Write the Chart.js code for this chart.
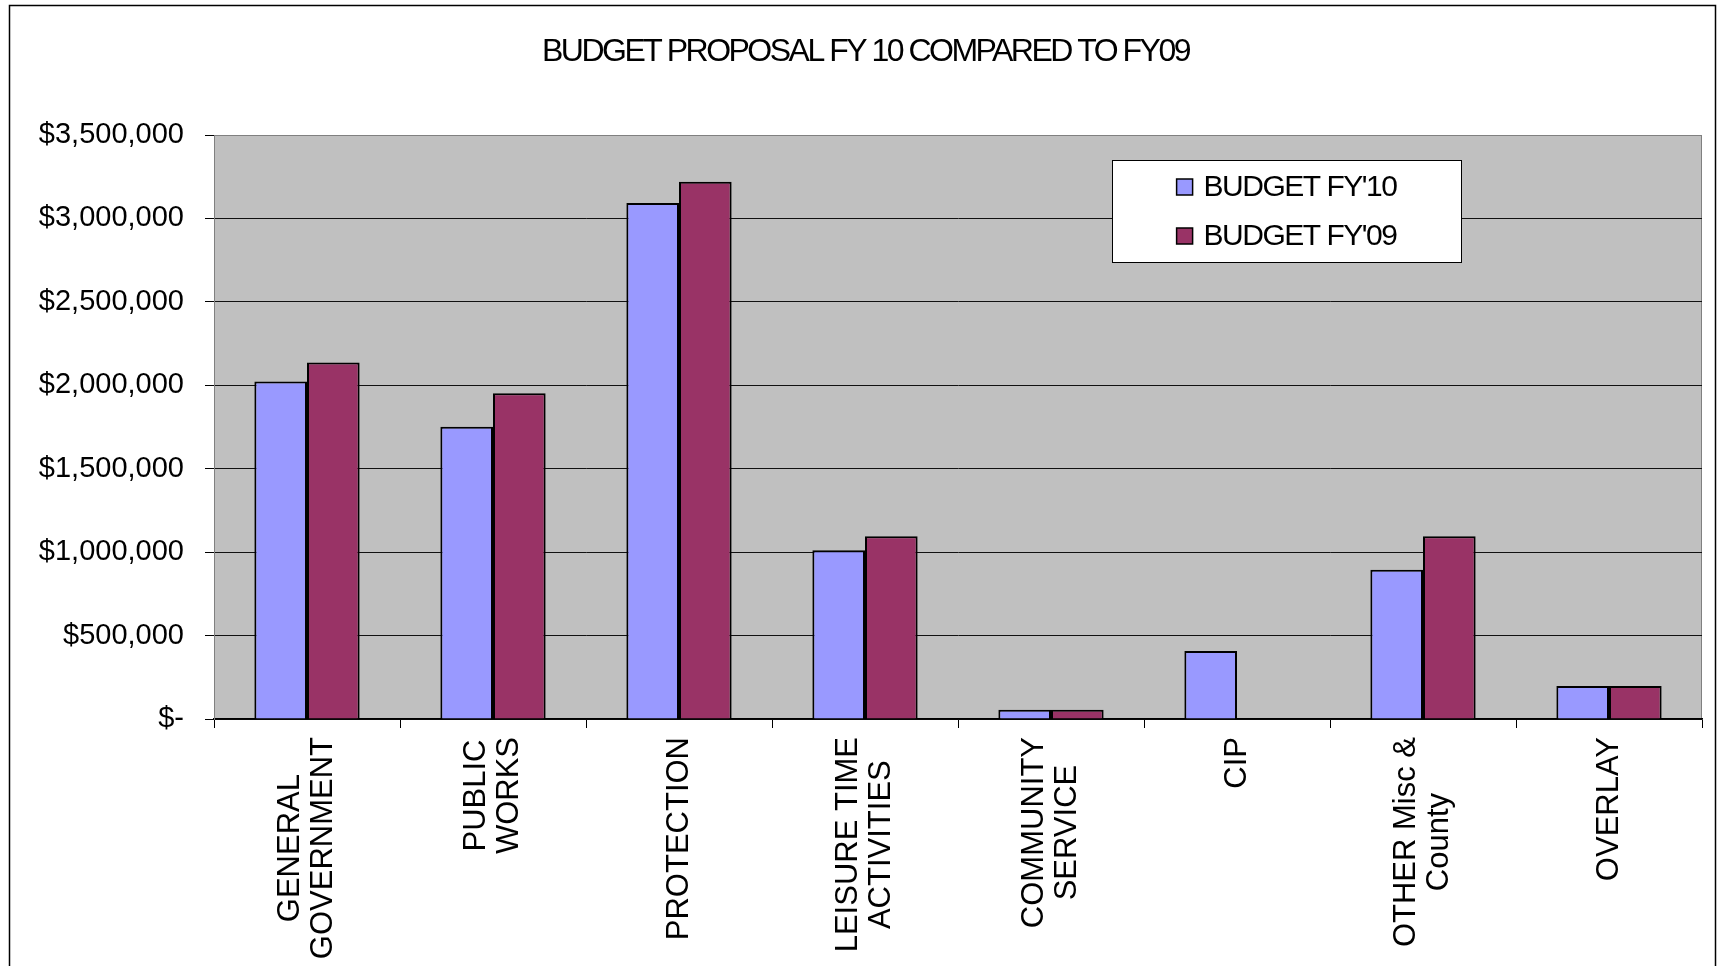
<!DOCTYPE html>
<html>
<head>
<meta charset="utf-8">
<title>Budget proposal FY10 vs FY09</title>
<script src="https://cdn.jsdelivr.net/npm/chart.js@4"></script>
<style>
  html, body { margin: 0; padding: 0; background: #fff; }
  canvas { display: block; }
</style>
</head>
<body>
<canvas id="budgetChart" width="1719" height="966"></canvas>
<script>
// data
const categories = [
  ['GENERAL', 'GOVERNMENT'],
  ['PUBLIC', 'WORKS'],
  ['PROTECTION'],
  ['LEISURE TIME', 'ACTIVITIES'],
  ['COMMUNITY', 'SERVICE'],
  ['CIP'],
  ['OTHER Misc &', 'County'],
  ['OVERLAY']
];
const seriesNames = ["BUDGET FY'10", "BUDGET FY'09"];
const budgetFY10 = [2022000, 1752000, 3092000, 1012000, 56000, 408000, 894000, 198000];
const budgetFY09 = [2137000, 1952000, 3220000, 1095000, 56000, null, 1095000, 198000];
const yTicks = [0, 500000, 1000000, 1500000, 2000000, 2500000, 3000000, 3500000];

const FONT = "'Liberation Sans', Arial, sans-serif";

// white page, outer frame, grey plot area
const backgroundPlugin = {
  id: 'background',
  beforeDraw(chart) {
    const { ctx, chartArea } = chart;
    ctx.save();
    ctx.fillStyle = '#fff';
    ctx.fillRect(0, 0, chart.width, chart.height);
    ctx.strokeStyle = '#000';
    ctx.lineWidth = 1.5;
    ctx.strokeRect(9.5, 5.5, 1706, 1000);
    ctx.fillStyle = '#c0c0c0';
    ctx.fillRect(chartArea.left, chartArea.top, chartArea.right - chartArea.left, chartArea.bottom - chartArea.top);
    ctx.strokeStyle = '#808080';
    ctx.lineWidth = 1;
    ctx.strokeRect(chartArea.left + 0.5, chartArea.top + 0.5, chartArea.right - chartArea.left - 1, chartArea.bottom - chartArea.top);
    ctx.restore();
  }
};

// the old title is set tight, so squeeze letters while title is drawn
// (y tick labels are moved to a later layer so they are not affected)
const tightTitlePlugin = {
  id: 'tightTitle',
  beforeDraw(chart) { chart.ctx.letterSpacing = '-2.5px'; },
  beforeDatasetsDraw(chart) { chart.ctx.letterSpacing = '0px'; }
};

// rotated category labels, lines centred on each other
const xLabelPlugin = {
  id: 'xLabels',
  afterDraw(chart) {
    const { ctx } = chart;
    const xs = chart.scales.x;
    const lh = 33;
    ctx.save();
    ctx.letterSpacing = '0px';
    ctx.font = '31px ' + FONT;
    ctx.fillStyle = '#000';
    ctx.textAlign = 'center';
    ctx.textBaseline = 'middle';
    chart.data.labels.forEach((lines, i) => {
      const x = xs.getPixelForValue(i);
      const y = xs.top + 18;
      const w = Math.max(...lines.map(l => ctx.measureText(l).width));
      ctx.save();
      ctx.translate(x, y);
      ctx.rotate(-Math.PI / 2);
      lines.forEach((l, j) => {
        ctx.fillText(l, -w / 2, (j - (lines.length - 1) / 2) * lh);
      });
      ctx.restore();
    });
    ctx.restore();
  }
};

// boxed legend sitting inside the plot area
const boxLegendPlugin = {
  id: 'boxLegend',
  afterDraw(chart) {
    const { ctx, chartArea } = chart;
    const bw = 349, bh = 102;
    const bx = chartArea.right - 241 - bw;
    const by = chartArea.top + 25;
    ctx.save();
    ctx.fillStyle = '#fff';
    ctx.fillRect(bx, by, bw, bh);
    ctx.strokeStyle = '#000';
    ctx.lineWidth = 1;
    ctx.strokeRect(bx + 0.5, by + 0.5, bw, bh);
    ctx.font = '30px ' + FONT;
    ctx.letterSpacing = '-1.5px';
    ctx.textBaseline = 'middle';
    ctx.textAlign = 'left';
    const ds = chart.data.datasets;
    const widest = Math.max(...ds.map(d => ctx.measureText(d.label).width));
    const left = bx + (bw - (16 + 11 + widest)) / 2;
    ds.forEach((d, i) => {
      const cy = by + 27 + i * 49;
      ctx.fillStyle = d.backgroundColor;
      ctx.fillRect(left, cy - 8, 16, 16);
      ctx.strokeStyle = '#000';
      ctx.lineWidth = 1.5;
      ctx.strokeRect(left, cy - 8, 16, 16);
      ctx.fillStyle = '#000';
      ctx.fillText(d.label, left + 27, cy + 1);
    });
    ctx.restore();
  }
};

new Chart(document.getElementById('budgetChart'), {
  type: 'bar',
  data: {
    labels: categories,
    datasets: [
      {
        label: seriesNames[0],
        data: budgetFY10,
        backgroundColor: '#9999ff',
        borderColor: '#000',
        borderWidth: 2,
        borderSkipped: 'bottom'
      },
      {
        label: seriesNames[1],
        data: budgetFY09,
        backgroundColor: '#993366',
        borderColor: '#000',
        borderWidth: 2,
        borderSkipped: 'bottom'
      }
    ]
  },
  options: {
    responsive: false,
    animation: false,
    categoryPercentage: 0.566,
    barPercentage: 1.0,
    layout: { padding: { left: 29, right: 17, top: 0, bottom: 0 } },
    plugins: {
      legend: { display: false },
      tooltip: { enabled: false },
      title: {
        display: true,
        text: 'BUDGET PROPOSAL FY 10 COMPARED TO FY09',
        color: '#000',
        font: { family: FONT, size: 32, weight: 'normal', lineHeight: 1.1 },
        padding: { top: 35, bottom: 64.8 }
      }
    },
    scales: {
      x: {
        offset: true,
        grid: {
          offset: true,
          drawOnChartArea: false,
          drawTicks: true,
          tickLength: 9,
          color: '#000'
        },
        border: { color: '#000', width: 1.5 },
        ticks: { display: false },
        afterFit(scale) { scale.height = 247; }
      },
      y: {
        min: 0,
        max: 3500000,
        afterBuildTicks(scale) { scale.ticks = yTicks.map(v => ({ value: v })); },
        grid: {
          color: ctx => (ctx.tick && ctx.tick.value === 3500000 ? '#808080' : '#111'),
          tickColor: '#000',
          tickLength: 9,
          lineWidth: 1
        },
        border: { color: '#808080', width: 1 },
        ticks: {
          z: 1,
          color: '#000',
          padding: 21,
          font: { family: FONT, size: 29 },
          callback: v => (v === 0 ? '$-' : '$' + v.toLocaleString('en-US'))
        },
        afterFit(scale) { scale.width = 185; }
      }
    }
  },
  plugins: [backgroundPlugin, tightTitlePlugin, xLabelPlugin, boxLegendPlugin]
});
</script>
</body>
</html>
